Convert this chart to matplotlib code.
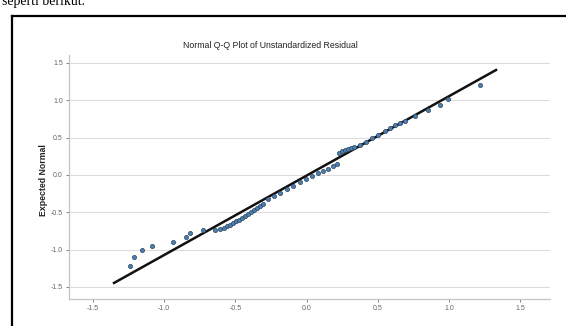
import matplotlib.pyplot as plt
from matplotlib.lines import Line2D

observed = [
    -1.239, -1.211, -1.154, -1.084, -0.937, -0.846, -0.818, -0.726,
    -0.642, -0.607, -0.579, -0.558, -0.537, -0.516, -0.495, -0.474,
    -0.453, -0.432, -0.411, -0.389, -0.368, -0.347, -0.326, -0.305,
    -0.270, -0.228, -0.186, -0.137, -0.095, -0.046, -0.004, 0.039,
    0.081, 0.116, 0.151, 0.186, 0.214,
    0.228, 0.249, 0.270, 0.291, 0.312, 0.333,
    0.375, 0.418, 0.460, 0.502, 0.551, 0.586, 0.621, 0.656, 0.691,
    0.761, 0.853, 0.937, 0.993, 1.218,
]
expected = [
    -1.219, -1.098, -1.004, -0.951, -0.897, -0.830, -0.777, -0.737,
    -0.737, -0.723, -0.710, -0.683, -0.670, -0.643, -0.616, -0.603,
    -0.576, -0.549, -0.522, -0.496, -0.469, -0.442, -0.415, -0.388,
    -0.321, -0.281, -0.241, -0.187, -0.147, -0.094, -0.054, -0.013,
    0.027, 0.054, 0.080, 0.121, 0.147,
    0.295, 0.321, 0.335, 0.348, 0.362, 0.375,
    0.402, 0.442, 0.496, 0.536, 0.589, 0.629, 0.670, 0.696, 0.723,
    0.790, 0.871, 0.937, 1.018, 1.205,
]

# reference line end points
line_x = [-1.351, 1.330]
line_y = [-1.446, 1.406]

ticks = [-1.5, -1.0, -0.5, 0.0, 0.5, 1.0, 1.5]
tick_labels = ["-1.5", "-1.0", "-0.5", "0.0", "0.5", "1.0", "1.5"]

plt.rcParams["font.family"] = ["Liberation Sans", "DejaVu Sans"]

fig = plt.figure(figsize=(5.66, 3.26), dpi=100)
fig.patch.set_facecolor("white")

# document text cut at the top of the screenshot
fig.text(2 / 566, 1 - 5.5 / 326, "seperti berikut.", fontsize=10,
         family="Liberation Serif", va="baseline", ha="left", color="black")

# black frame around the chart
fig.add_artist(Line2D([12 / 566, 12 / 566], [0, 1 - 16 / 326],
                      transform=fig.transFigure, color="black", lw=1.6))
fig.add_artist(Line2D([12 / 566, 1], [1 - 16 / 326, 1 - 16 / 326],
                      transform=fig.transFigure, color="black", lw=1.6))

ax = fig.add_axes([69 / 566, 27 / 326, 481 / 566, 244 / 326])
ax.set_facecolor("white")

ax.plot(line_x, line_y, color="#111111", lw=1.8, zorder=2)
ax.scatter(observed, expected, s=9, facecolor="#4a7fb5", edgecolor="#2f4458",
           linewidth=0.5, zorder=3)

ax.set_xlim(-1.667, 1.709)
ax.set_ylim(-1.661, 1.607)
ax.set_xticks(ticks)
ax.set_xticklabels(tick_labels)
ax.set_yticks(ticks)
ax.set_yticklabels(tick_labels)

ax.grid(axis="y", color="#dcdcdc", lw=0.8)
ax.set_axisbelow(True)
for side in ["top", "right"]:
    ax.spines[side].set_visible(False)
for side in ["left", "bottom"]:
    ax.spines[side].set_color("#c4c4c4")
    ax.spines[side].set_linewidth(0.9)
ax.tick_params(labelsize=5, colors="#666666", length=2, width=0.6, pad=2.5)

fig.text(270 / 566, 1 - 45 / 326, "Normal Q-Q Plot of Unstandardized Residual",
         fontsize=6.3, ha="center", va="center", color="#222222")
fig.text(43 / 566, 1 - 180 / 326, "Expected Normal", fontsize=6.3,
         fontweight="bold", rotation=90, ha="center", va="center", color="#222222")

fig.savefig("out.png", dpi=100)
